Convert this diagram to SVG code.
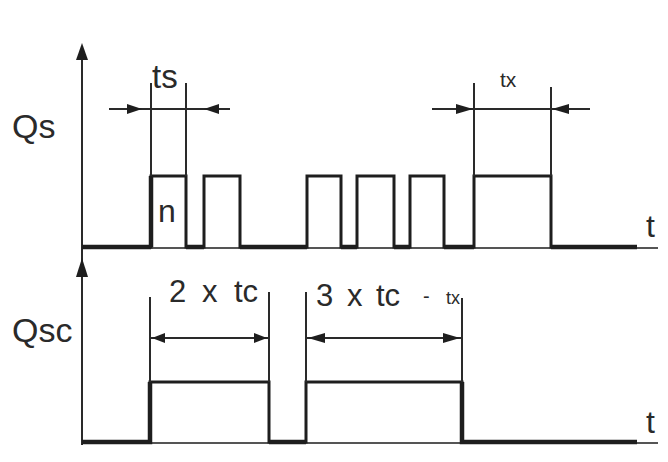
<svg xmlns="http://www.w3.org/2000/svg" width="668" height="462" viewBox="0 0 668 462">
<style>
.lbl{font-family:"Liberation Sans",Arial,sans-serif;fill:#2a2a2a}
.ax{stroke:#2a2a2a;stroke-width:2;fill:none}
.base{stroke:#555;stroke-width:2;fill:none}
.tr{stroke:#1e1e1e;stroke-width:3;fill:none;stroke-linejoin:miter}
.th{stroke:#1e1e1e;stroke-width:4.5;fill:none}
.dim{stroke:#2a2a2a;stroke-width:2;fill:none}
.ah{fill:#1e1e1e}
</style>
<rect width="668" height="462" fill="#fff"/>
<g id="axes">
<line class="ax" x1="82" y1="50" x2="82" y2="445"/>
<polygon class="ah" points="82,43 76,60 88,60"/>
<polygon class="ah" points="82,258 76,277 88,277"/>
<line class="base" x1="82" y1="248" x2="658" y2="248"/>
<line class="base" x1="82" y1="443" x2="658" y2="443"/>
</g>
<g id="labels">
<text class="lbl" x="12" y="138" font-size="34">Qs</text>
<text class="lbl" x="12" y="342" font-size="34">Qsc</text>
<text class="lbl" x="646" y="237" font-size="32">t</text>
<text class="lbl" x="646" y="433" font-size="32">t</text>
</g>
<g id="qs-signal">
<path class="tr" d="M82,247 H151 V176 H186 V247 H204 V176 H240 V247 H307 V176 H341 V247 H357 V176 H394 V247 H410 V176 H444 V247 H474 V176 H551 V247 H637"/>
<path class="th" d="M82,247 H151 M186,247 H204 M240,247 H307 M341,247 H357 M394,247 H410 M444,247 H474 M551,247 H637"/>
<line class="th" x1="151" y1="176" x2="151" y2="247" stroke-width="3.5"/>
<text class="lbl" x="158" y="222" font-size="32">n</text>
</g>
<g id="ts-dim">
<line class="dim" x1="151" y1="83" x2="151" y2="176"/>
<line class="dim" x1="186" y1="83" x2="186" y2="176"/>
<line class="dim" x1="109" y1="109" x2="230" y2="109"/>
<polygon class="ah" points="142,109 127,104 127,114"/>
<polygon class="ah" points="204,109 219,104 219,114"/>
<text class="lbl" x="152" y="88" font-size="33">ts</text>
</g>
<g id="tx-dim">
<line class="dim" x1="474" y1="83" x2="474" y2="176"/>
<line class="dim" x1="551" y1="87" x2="551" y2="176"/>
<line class="dim" x1="432" y1="109" x2="590" y2="109"/>
<polygon class="ah" points="473,109 456,104 456,114"/>
<polygon class="ah" points="552,109 569,104 569,114"/>
<text class="lbl" x="500" y="87" font-size="21">tx</text>
</g>
<g id="qsc-signal">
<path class="tr" d="M82,442 H150 V382 H269 V442 H306 V382 H462 V442 H637"/>
<path class="th" d="M82,442 H150 V382 M269,442 H306 M462,382 V442 H637"/>
</g>
<g id="tc-dims">
<line class="dim" x1="150" y1="297" x2="150" y2="382"/>
<line class="dim" x1="269" y1="292" x2="269" y2="382"/>
<line class="dim" x1="306" y1="292" x2="306" y2="382"/>
<line class="dim" x1="462" y1="298" x2="462" y2="382"/>
<line class="dim" x1="150" y1="338" x2="269" y2="338"/>
<line class="dim" x1="306" y1="338" x2="462" y2="338"/>
<polygon class="ah" points="152,338 165,333 165,343"/>
<polygon class="ah" points="267,338 254,333 254,343"/>
<polygon class="ah" points="308,338 325,333 325,343"/>
<polygon class="ah" points="460,338 443,333 443,343"/>
<text class="lbl" y="302" font-size="31"><tspan x="169">2</tspan> <tspan x="202">x</tspan> <tspan x="234">tc</tspan></text>
<text class="lbl" y="306" font-size="31"><tspan x="316">3</tspan> <tspan x="347">x</tspan> <tspan x="376">tc</tspan></text>
<text class="lbl" x="423" y="303" font-size="20">-</text>
<text class="lbl" x="446" y="304" font-size="18">tx</text>
</g>
</svg>
